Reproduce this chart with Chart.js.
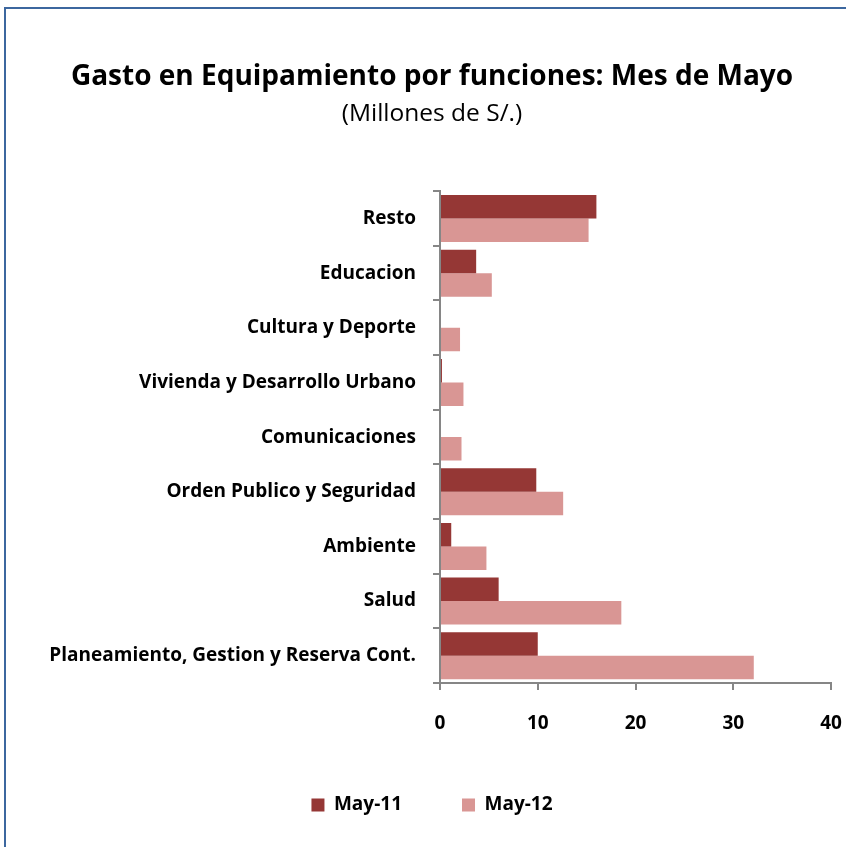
<!DOCTYPE html>
<html>
<head>
<meta charset="utf-8">
<script src="https://cdn.jsdelivr.net/npm/chart.js@4"></script>
<style>
  html, body { margin: 0; padding: 0; background: #fff; overflow: hidden; }
  #wrap { position: relative; width: 846px; height: 847px; overflow: hidden; }
  #frame { position: absolute; left: 4px; top: 7px; width: 900px; height: 900px;
           border: 2px solid #3c679f; box-sizing: border-box; }
  canvas { position: absolute; left: 0; top: 0; }
</style>
</head>
<body>
<div id="wrap">
  <div id="frame"></div>
  <canvas id="c" width="846" height="847"></canvas>
</div>
<script>
// Categories, listed top to bottom
const categories = [
  'Resto',
  'Educacion',
  'Cultura y Deporte',
  'Vivienda y Desarrollo Urbano',
  'Comunicaciones',
  'Orden Publico y Seguridad',
  'Ambiente',
  'Salud',
  'Planeamiento, Gestion y Reserva Cont.'
];
// Spending in millions of S/.
const may11 = [16.0, 3.7, 0.0, 0.2, 0.0, 9.85, 1.15, 6.0, 10.0];
const may12 = [15.2, 5.3, 2.05, 2.4, 2.2, 12.6, 4.75, 18.55, 32.1];
const seriesNames = ['May-11', 'May-12'];
const xTicks = [0, 10, 20, 30, 40];

const FONT = '"Open Sans", Lato, sans-serif';
const AXIS = '#868686';
const PAD_LEFT = 33;

new Chart(document.getElementById('c'), {
  type: 'bar',
  data: {
    labels: categories,
    datasets: [
      { label: seriesNames[0], data: may11, backgroundColor: '#953735' },
      { label: seriesNames[1], data: may12, backgroundColor: '#D99694' }
    ]
  },
  options: {
    indexAxis: 'y',
    responsive: false,
    animation: false,
    categoryPercentage: 0.86,
    barPercentage: 1.0,
    layout: { padding: { top: 0, right: 15, bottom: 22.5, left: PAD_LEFT } },
    plugins: {
      tooltip: { enabled: false },
      title: {
        display: true,
        text: 'Gasto en Equipamiento por funciones: Mes de Mayo',
        color: '#000',
        font: { family: FONT, size: 28, weight: 'bold' },
        padding: { top: 60.2, bottom: 5.8 }
      },
      subtitle: {
        display: true,
        text: '(Millones de S/.)',
        color: '#000',
        font: { family: FONT, size: 24.5, weight: 'normal' },
        padding: { top: 0, bottom: 62.2 }
      },
      legend: {
        position: 'bottom',
        labels: {
          color: '#000',
          font: { family: FONT, size: 19, weight: 'bold' },
          boxWidth: 13,
          boxHeight: 13,
          padding: 60
        }
      }
    },
    scales: {
      x: {
        min: 0,
        max: 40,
        afterBuildTicks: (s) => { s.ticks = xTicks.map(v => ({ value: v })); },
        afterFit: (s) => { s.height = 52.5; s.paddingRight = 0; s.paddingLeft = 0; },
        grid: { drawOnChartArea: false, drawTicks: true, tickLength: 7, color: AXIS, lineWidth: 2 },
        border: { color: AXIS, width: 2 },
        ticks: { color: '#000', font: { family: FONT, size: 19, weight: 'bold' }, padding: 22 }
      },
      y: {
        afterFit: (s) => { s.width = 440 - PAD_LEFT; },
        grid: { drawOnChartArea: false, drawTicks: true, tickLength: 7, color: AXIS, lineWidth: 2, offset: true },
        border: { color: AXIS, width: 2 },
        ticks: { color: '#000', font: { family: FONT, size: 19, weight: 'bold' }, padding: 17 }
      }
    }
  }
});
</script>
</body>
</html>
